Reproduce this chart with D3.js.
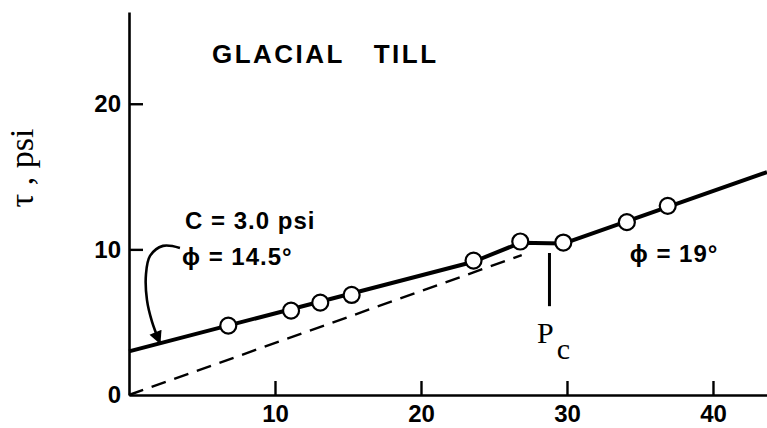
<!DOCTYPE html>
<html>
<head>
<meta charset="utf-8">
<script src="https://cdn.jsdelivr.net/npm/d3@7/dist/d3.min.js"></script>
<style>
    html, body { margin: 0; padding: 0; background: #fff; }
    svg { display: block; }
    .tick-label { font-family: "Liberation Sans", Arial, sans-serif; font-weight: bold; font-size: 24px; }
    .note { font-family: "Liberation Sans", Arial, sans-serif; font-weight: bold; fill: #000; }
    .serif { font-family: "Liberation Serif", "Times New Roman", serif; fill: #000; }
</style>
</head>
<body>
<div id="chart"></div>
<script>
// glacial till: shear strength vs normal stress

// measured points (normal stress, psi / shear stress, psi)
const normalStress = [6.8, 11.1, 13.1, 15.25, 23.6, 26.8, 29.75, 34.1, 36.9];
const shearStress  = [4.76, 5.79, 6.34, 6.87, 9.23, 10.54, 10.47, 11.87, 12.99];

// failure envelope (solid) vertices
const envelopeX = [0, 23.6, 26.8, 29.75, 43.7];
const envelopeY = [3.0, 9.15, 10.45, 10.4, 15.3];

// line through origin (dashed)
const originLineX = [0, 26.9];
const originLineY = [0, 9.6];

// tick values
const xTicks = [10, 20, 30, 40];
const yTicks = [0, 10, 20];

// preconsolidation marker
const pcValue = 28.8;
const pcRange = [6.1, 9.75];

// curved pointer from the "C / phi" note to the envelope
const arrowX = [3.49, 2.33, 1.44, 1.16, 1.23, 1.58, 2.12];
const arrowY = [10.1, 10.24, 9.55, 8.25, 6.53, 5.02, 3.57];

(function () {
    'use strict';

    const W = 767, H = 428;

    const svg = d3.select('#chart').append('svg')
        .attr('width', W)
        .attr('height', H);

    const x = d3.scaleLinear().domain([0, 43.7]).range([129, 767]);
    const y = d3.scaleLinear().domain([0, 26.3]).range([395, 12]);

    // axes - ticks point inward
    const xAxis = d3.axisBottom(x)
        .tickValues(xTicks)
        .tickSizeInner(-14)
        .tickSizeOuter(0)
        .tickPadding(10);

    const yAxis = d3.axisLeft(y)
        .tickValues(yTicks)
        .tickSizeInner(-14)
        .tickSizeOuter(0)
        .tickPadding(8)
        .tickFormat(d3.format('d'));

    const gx = svg.append('g')
        .attr('transform', 'translate(0,' + y(0) + ')')
        .call(xAxis);
    const gy = svg.append('g')
        .attr('transform', 'translate(' + x(0) + ',0)')
        .call(yAxis);

    [gx, gy].forEach(function (g) {
        g.attr('font-size', null).attr('font-family', null);
        g.select('.domain').attr('stroke', '#000').attr('stroke-width', 2.6);
        g.selectAll('.tick line').attr('stroke', '#000').attr('stroke-width', 2.4);
        g.selectAll('.tick text')
            .attr('class', 'tick-label')
            .attr('fill', '#000');
    });
    // y tick at zero sits on the x axis
    gy.selectAll('.tick').filter(function (d) { return d === 0; }).select('line').remove();

    const line = d3.line()
        .x(function (d) { return x(d[0]); })
        .y(function (d) { return y(d[1]); });

    // dashed line through origin
    svg.append('path')
        .datum(d3.zip(originLineX, originLineY))
        .attr('d', line)
        .attr('fill', 'none')
        .attr('stroke', '#000')
        .attr('stroke-width', 2.4)
        .attr('stroke-dasharray', '15,9');

    // envelope
    svg.append('path')
        .datum(d3.zip(envelopeX, envelopeY))
        .attr('d', line)
        .attr('fill', 'none')
        .attr('stroke', '#000')
        .attr('stroke-width', 4)
        .attr('stroke-linejoin', 'round');

    // data points
    svg.append('g').selectAll('circle')
        .data(d3.zip(normalStress, shearStress))
        .enter()
        .append('circle')
        .attr('cx', function (d) { return x(d[0]); })
        .attr('cy', function (d) { return y(d[1]); })
        .attr('r', 8)
        .attr('fill', '#fff')
        .attr('stroke', '#000')
        .attr('stroke-width', 2.2);

    // Pc marker
    svg.append('line')
        .attr('x1', x(pcValue)).attr('x2', x(pcValue))
        .attr('y1', y(pcRange[0])).attr('y2', y(pcRange[1]))
        .attr('stroke', '#000')
        .attr('stroke-width', 3);

    const pc = svg.append('text')
        .attr('class', 'serif')
        .attr('fill', '#000')
        .attr('x', x(27.95))
        .attr('y', y(3.55))
        .style('font-size', '30px');
    pc.append('tspan').text('P');
    pc.append('tspan').attr('dx', 3).attr('dy', 16).text('c');

    // curved arrow
    svg.append('defs').append('marker')
        .attr('id', 'head')
        .attr('viewBox', '0 0 10 10')
        .attr('refX', 9)
        .attr('refY', 5)
        .attr('markerWidth', 8)
        .attr('markerHeight', 5)
        .attr('markerUnits', 'strokeWidth')
        .attr('orient', 'auto')
        .append('path')
        .attr('d', 'M0,0 L10,5 L0,10 Z')
        .attr('fill', '#000');

    svg.append('path')
        .datum(d3.zip(arrowX, arrowY))
        .attr('d', line.curve(d3.curveCatmullRom))
        .attr('fill', 'none')
        .attr('stroke', '#000')
        .attr('stroke-width', 2.6)
        .attr('marker-end', 'url(#head)');

    // annotations
    svg.append('text')
        .attr('class', 'note')
        .attr('x', x(5.68))
        .attr('y', y(22.8))
        .style('font-size', '26px')
        .style('letter-spacing', '2.5px')
        .attr('xml:space', 'preserve')
        .text('GLACIAL   TILL');

    svg.append('text')
        .attr('class', 'note')
        .attr('x', x(3.84))
        .attr('y', y(11.4))
        .style('font-size', '24px')
        .style('letter-spacing', '1px')
        .text('C = 3.0 psi');

    svg.append('text')
        .attr('class', 'note')
        .attr('x', x(3.63))
        .attr('y', y(8.93))
        .style('font-size', '24px')
        .style('letter-spacing', '1px')
        .text('\u03D5 = 14.5\u00B0');

    svg.append('text')
        .attr('class', 'note')
        .attr('x', x(34.3))
        .attr('y', y(9.14))
        .style('font-size', '24px')
        .style('letter-spacing', '1px')
        .text('\u03D5 = 19\u00B0');

    // y axis title
    svg.append('text')
        .attr('class', 'serif')
        .attr('fill', '#000')
        .attr('transform', 'translate(33,168) rotate(-90)')
        .attr('text-anchor', 'middle')
        .style('font-size', '34px')
        .text('\u03C4 , psi');
})();
</script>
</body>
</html>
